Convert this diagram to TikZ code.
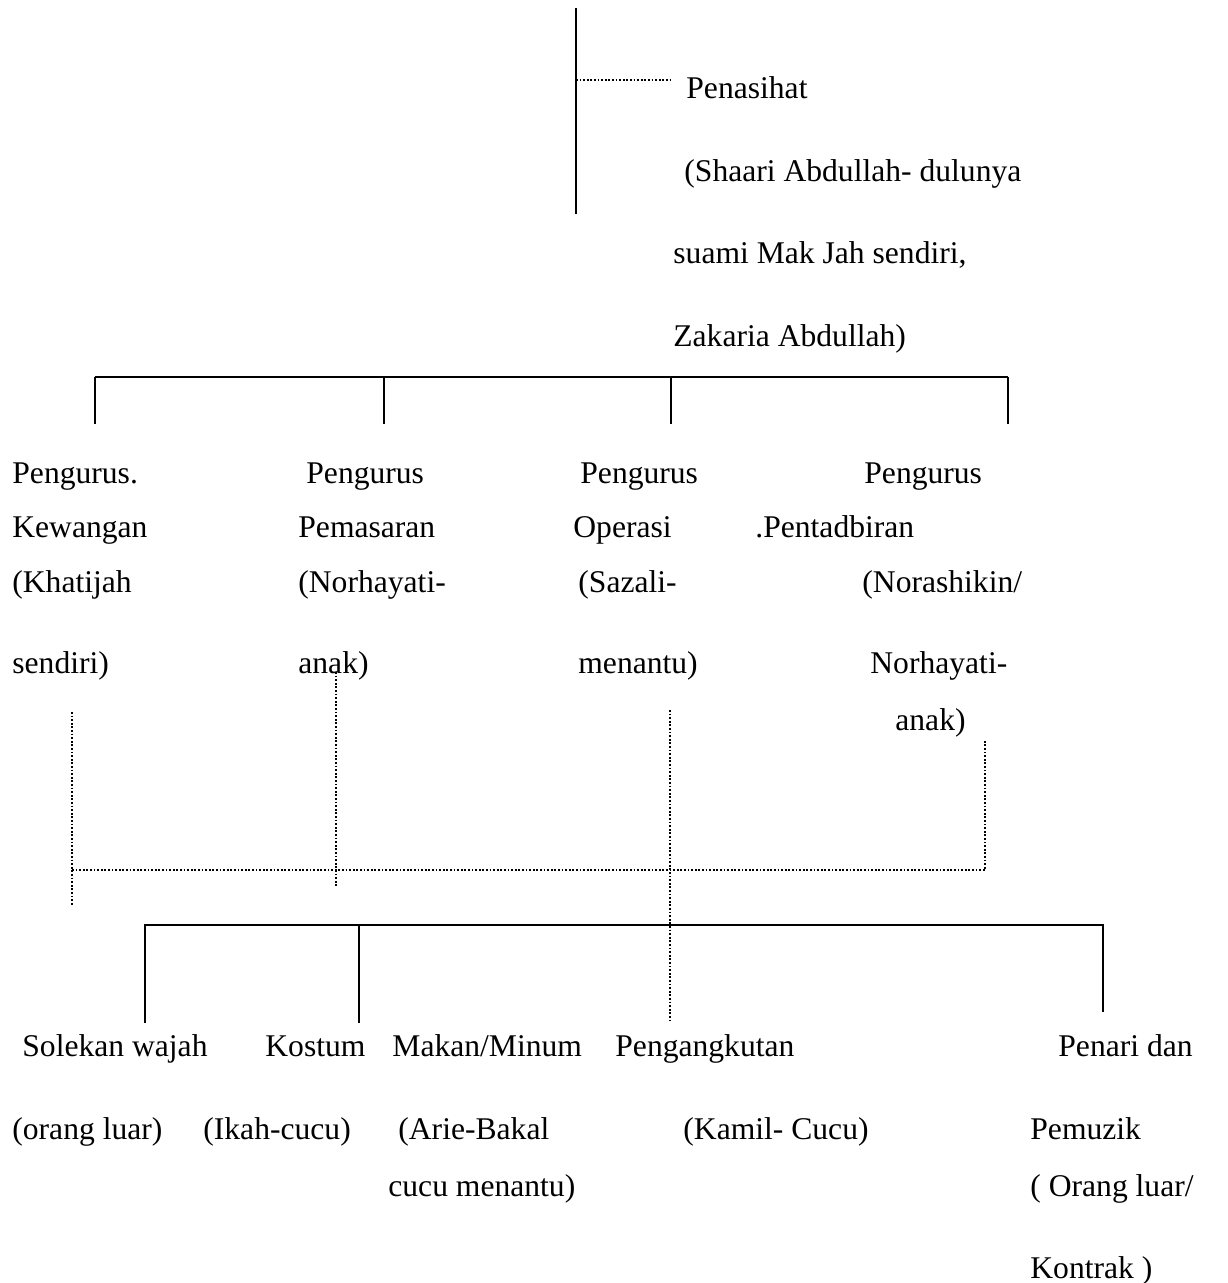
\documentclass[tikz,border=0pt]{standalone}
\usepackage{fontspec}
\setmainfont{Liberation Serif}
\begin{document}
\begin{tikzpicture}[x=0.5pt,y=-0.5pt,
  lbl/.style={anchor=west,inner sep=0pt,yshift=-3pt,font=\fontsize{15.8}{18}\selectfont,text height=0.7em,text depth=0.22em},
  solidline/.style={line width=1pt},
  dotline/.style={line width=0.7pt,dash pattern=on 0.9pt off 0.9pt}]
\useasboundingbox (0,0) rectangle (1227,1283);
% ---- top: adviser ----
\coordinate (topT) at (576,8);
\coordinate (topB) at (576,214);
\coordinate (penJ) at (576,80);
\coordinate (penE) at (672,80);
\draw[solidline] (topT) -- (topB);
\draw[dotline] (penJ) -- (penE);
\node[lbl] (pen1) at (686,88) {Penasihat};
\node[lbl] (pen2) at (684,171) {(Shaari Abdullah- dulunya};
\node[lbl] (pen3) at (673,253) {suami Mak Jah sendiri,};
\node[lbl] (pen4) at (673,336) {Zakaria Abdullah)};
% ---- managers bus ----
\coordinate (b1a) at (95,377);
\coordinate (b1b) at (384,377);
\coordinate (b1c) at (671,377);
\coordinate (b1d) at (1008,377);
\coordinate (d1a) at (95,424);
\coordinate (d1b) at (384,424);
\coordinate (d1c) at (671,424);
\coordinate (d1d) at (1008,424);
\draw[solidline] (b1a) -- (b1d);
\draw[solidline] (b1a) -- (d1a);
\draw[solidline] (b1b) -- (d1b);
\draw[solidline] (b1c) -- (d1c);
\draw[solidline] (b1d) -- (d1d);
% ---- managers ----
\node[lbl] (k1) at (12,473) {Pengurus.};
\node[lbl] (k2) at (12,527) {Kewangan};
\node[lbl] (k3) at (12,582) {(Khatijah};
\node[lbl] (k4) at (12,663) {sendiri)};
\node[lbl] (m1) at (306,473) {Pengurus};
\node[lbl] (m2) at (298,527) {Pemasaran};
\node[lbl] (m3) at (298,582) {(Norhayati-};
\node[lbl] (m4) at (298,663) {anak)};
\node[lbl] (o1) at (580,473) {Pengurus};
\node[lbl] (o2) at (573,527) {Operasi};
\node[lbl] (o3) at (578,582) {(Sazali-};
\node[lbl] (o4) at (578,663) {menantu)};
\node[lbl] (p1) at (864,473) {Pengurus};
\node[lbl] (p2) at (755,527) {.Pentadbiran};
\node[lbl] (p3) at (862,582) {(Norashikin/};
\node[lbl] (p4) at (870,663) {Norhayati-};
\node[lbl] (p5) at (895,720) {anak)};
% ---- dotted links ----
\coordinate (dkT) at (72,712);
\coordinate (dkB) at (72,905);
\coordinate (dkJ) at (72,870);
\coordinate (dmT) at (336,672);
\coordinate (dmB) at (336,887);
\coordinate (doT) at (670,710);
\coordinate (doB) at (670,1022);
\coordinate (dpT) at (985,740);
\coordinate (dpJ) at (985,870);
\draw[dotline] (dkT) -- (dkB);
\draw[dotline] (dmT) -- (dmB);
\draw[dotline] (doT) -- (doB);
\draw[dotline] (dkJ) -- (dpJ) -- (dpT);
% ---- staff bus ----
\coordinate (b2a) at (145,925);
\coordinate (b2b) at (359,925);
\coordinate (b2c) at (1103,925);
\coordinate (d2a) at (145,1023);
\coordinate (d2b) at (359,1023);
\coordinate (d2c) at (1103,1012);
\draw[solidline] (d2a) -- (b2a) -- (b2c) -- (d2c);
\draw[solidline] (b2b) -- (d2b);
% ---- staff ----
\node[lbl] (s1) at (22,1046) {Solekan wajah};
\node[lbl] (s2) at (12,1129) {(orang luar)};
\node[lbl] (c1) at (265,1046) {Kostum};
\node[lbl] (c2) at (203,1129) {(Ikah-cucu)};
\node[lbl] (f1) at (392,1046) {Makan/Minum};
\node[lbl] (f2) at (398,1129) {(Arie-Bakal};
\node[lbl] (f3) at (388,1186) {cucu menantu)};
\node[lbl] (t1) at (615,1046) {Pengangkutan};
\node[lbl] (t2) at (683,1129) {(Kamil- Cucu)};
\node[lbl] (r1) at (1058,1046) {Penari dan};
\node[lbl] (r2) at (1030,1129) {Pemuzik};
\node[lbl] (r3) at (1030,1186) {( Orang luar/};
\node[lbl] (r4) at (1030,1268) {Kontrak )};
\end{tikzpicture}
\end{document}
